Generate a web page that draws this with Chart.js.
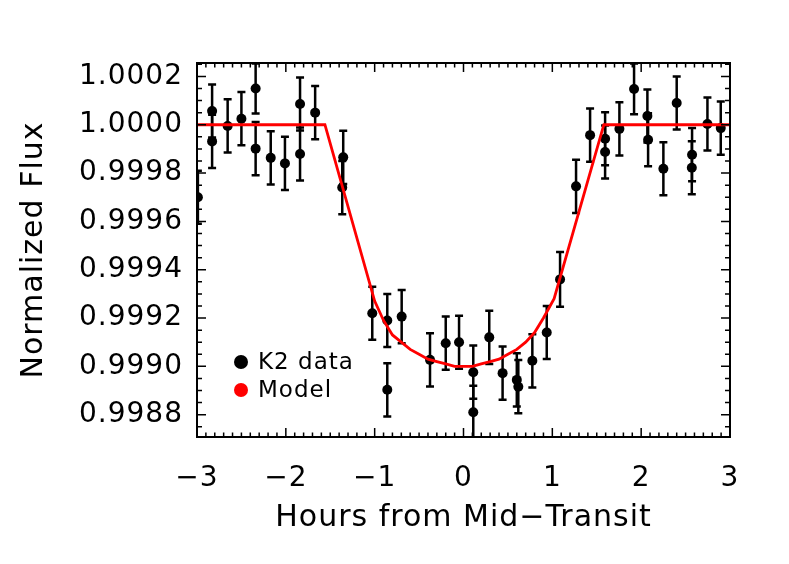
<!DOCTYPE html>
<html>
<head>
<meta charset="utf-8">
<title>K2 transit</title>
<script src="https://cdn.jsdelivr.net/npm/chart.js@4.4.1/dist/chart.umd.min.js"></script>
<style>
  body { margin: 0; background: #fff; }
  canvas { display: block; }
</style>
</head>
<body>
<canvas id="myChart" width="789" height="564"></canvas>
<script>
// K2 photometry, phased on mid-transit
var hours = [-2.99, -2.83, -2.83, -2.655, -2.50, -2.34, -2.34, -2.17, -2.01, -1.84, -1.84, -1.67,
  -1.354, -1.365, -1.027, -0.858, -0.858, -0.696, -0.377, -0.20, -0.05, 0.11, 0.11, 0.29,
  0.44, 0.60, 0.617, 0.775, 0.937, 1.087, 1.267, 1.425, 1.594, 1.594, 1.755, 1.92,
  2.07, 2.078, 2.25, 2.40, 2.573, 2.57, 2.746, 2.896];
var flux = [0.99970, 1.000057, 0.999931, 0.999995, 1.000025, 1.000150, 0.999901, 0.999863, 0.999840, 1.000086, 0.999879, 1.000050,
  0.999865, 0.999740, 0.999220, 0.999190, 0.998903, 0.999206, 0.999027, 0.999096, 0.999100, 0.998976, 0.998810, 0.999120,
  0.998972, 0.998944, 0.998916, 0.999023, 0.999140, 0.999360, 0.999745, 0.999957, 0.999942, 0.999887, 0.999983, 1.000148,
  1.000036, 0.999938, 0.999818, 1.000090, 0.999876, 0.999822, 1.000003, 0.999986];
var fluxErr = [0.00011, 0.00011, 0.00011, 0.00011, 0.00011, 0.000103, 0.00011, 0.00011, 0.00011, 0.00011, 0.00011, 0.00011,
  0.00011, 0.00011, 0.00011, 0.00011, 0.00011, 0.00011, 0.00011, 0.00011, 0.00011, 0.00011, 0.00011, 0.00011,
  0.00011, 0.00011, 0.00011, 0.00011, 0.00011, 0.000113, 0.00011, 0.00011, 0.00011, 0.00011, 0.00011, 0.000105,
  0.00011, 0.00011, 0.00011, 0.00011, 0.00011, 0.00011, 0.00011, 0.00011];

// transit model
var modelHours = [-3, -1.56, -1.0, -0.9, -0.8, -0.7, -0.6, -0.5, -0.4, -0.3, -0.2, -0.1, 0,
  0.1, 0.2, 0.3, 0.4, 0.5, 0.6, 0.7, 0.8, 0.9, 1.02, 1.58, 3];
var modelFlux = [1.0, 1.0, 0.99927, 0.99919, 0.99913, 0.99910, 0.99907, 0.99905, 0.99903, 0.99902, 0.99901, 0.99900, 0.99900,
  0.99900, 0.99901, 0.99902, 0.99903, 0.99905, 0.99907, 0.99910, 0.99914, 0.99920, 0.99928, 1.0, 1.0];

var xTicks = [-3, -2, -1, 0, 1, 2, 3];
var yTicks = [0.9988, 0.9990, 0.9992, 0.9994, 0.9996, 0.9998, 1.0000, 1.0002];
var seriesNames = ['K2 data', 'Model'];

Chart.defaults.font.family = "'DejaVu Sans', sans-serif";
Chart.defaults.color = '#000';

var k2 = hours.map(function (h, i) { return { x: h, y: flux[i] }; });
var model = modelHours.map(function (h, i) { return { x: h, y: modelFlux[i] }; });

// letter spacing like the IDL vector font
var spacing = {
  id: 'spacing',
  beforeDraw: function (chart) { chart.ctx.letterSpacing = '1px'; }
};

var errorBars = {
  id: 'errorBars',
  beforeDatasetsDraw: function (chart) {
    var c = chart.ctx, xs = chart.scales.x, ys = chart.scales.y, a = chart.chartArea;
    c.save();
    c.beginPath();
    c.rect(a.left, a.top, a.right - a.left, a.bottom - a.top);
    c.clip();
    c.strokeStyle = '#000';
    c.lineWidth = 2.5;
    hours.forEach(function (h, i) {
      var px = xs.getPixelForValue(h);
      var top = ys.getPixelForValue(flux[i] + fluxErr[i]);
      var bot = ys.getPixelForValue(flux[i] - fluxErr[i]);
      c.beginPath();
      c.moveTo(px, top); c.lineTo(px, bot);
      c.moveTo(px - 4, top); c.lineTo(px + 4, top);
      c.moveTo(px - 4, bot); c.lineTo(px + 4, bot);
      c.stroke();
    });
    c.restore();
  }
};

// box with inward ticks on all four sides
var frame = {
  id: 'frame',
  afterDatasetsDraw: function (chart) {
    var c = chart.ctx, xs = chart.scales.x, ys = chart.scales.y, a = chart.chartArea;
    c.save();
    c.strokeStyle = '#000';
    c.lineWidth = 1.5;
    c.beginPath();
    for (var i = 0; i <= 60; i++) {
      var px = xs.getPixelForValue(-3 + i * 0.1);
      var len = (i % 10 === 0) ? 9 : 4.5;
      c.moveTo(px, a.bottom); c.lineTo(px, a.bottom - len);
      c.moveTo(px, a.top); c.lineTo(px, a.top + len);
    }
    for (var k = -1; k <= 29; k++) {
      var py = ys.getPixelForValue(0.9988 + k * 0.00005);
      if (py < a.top || py > a.bottom) continue;
      var l2 = (k % 4 === 0) ? 9 : 5;
      c.moveTo(a.left, py); c.lineTo(a.left + l2, py);
      c.moveTo(a.right, py); c.lineTo(a.right - l2, py);
    }
    c.stroke();
    c.lineWidth = 2;
    c.strokeRect(a.left, a.top, a.right - a.left, a.bottom - a.top);
    c.restore();
  }
};

var legendBox = {
  id: 'legendBox',
  afterDraw: function (chart) {
    var c = chart.ctx, a = chart.chartArea;
    var cols = ['#000000', '#ff0000'];
    c.save();
    c.font = "23px 'DejaVu Sans', sans-serif";
    c.textBaseline = 'middle';
    seriesNames.forEach(function (name, i) {
      var y = a.bottom - 75 + i * 28;
      c.beginPath();
      c.arc(a.left + 44, y, 7, 0, Math.PI * 2);
      c.fillStyle = cols[i];
      c.fill();
      c.fillStyle = '#000';
      c.fillText(name, a.left + 61, y + 1);
    });
    c.restore();
  }
};

var ctx = document.getElementById('myChart').getContext('2d');

var chart = new Chart(ctx, {
  type: 'scatter',
  data: {
    datasets: [{
      type: 'line',
      label: seriesNames[1],
      data: model,
      borderColor: '#ff0000',
      borderWidth: 2.8,
      pointRadius: 0,
      fill: false,
      tension: 0,
      clip: 0
    }, {
      label: seriesNames[0],
      data: k2,
      showLine: false,
      pointRadius: 5,
      pointBackgroundColor: '#000',
      pointBorderWidth: 0,
      clip: 0
    }]
  },
  options: {
    responsive: false,
    animation: false,
    devicePixelRatio: 1,
    layout: { padding: { left: 0, top: 63, right: 59, bottom: 0 } },
    plugins: {
      legend: { display: false },
      tooltip: { enabled: false }
    },
    scales: {
      x: {
        type: 'linear',
        min: xTicks[0],
        max: xTicks[xTicks.length - 1],
        grid: { display: false, drawTicks: false },
        border: { display: false },
        afterBuildTicks: function (s) { s.ticks = xTicks.map(function (v) { return { value: v }; }); },
        ticks: {
          padding: 28,
          autoSkip: false,
          maxRotation: 0,
          font: { size: 28, lineHeight: 1 },
          callback: function (v) { return v < 0 ? '\u2212' + (-v) : '' + v; }
        },
        title: {
          display: true,
          text: 'Hours from Mid\u2212Transit',
          font: { size: 30, lineHeight: 1 },
          padding: { top: 0, bottom: 31 }
        },
        afterFit: function (s) { s.height = 127; }
      },
      y: {
        type: 'linear',
        min: 0.9987077,
        max: 1.0002555,
        grid: { display: false, drawTicks: false },
        border: { display: false },
        afterBuildTicks: function (s) { s.ticks = yTicks.map(function (v) { return { value: v }; }); },
        ticks: {
          padding: 14,
          font: { size: 28, lineHeight: 1 },
          callback: function (v) { return v.toFixed(4); }
        },
        title: {
          display: true,
          text: 'Normalized Flux',
          font: { size: 30, lineHeight: 1 },
          padding: { top: 19, bottom: 0 }
        },
        afterFit: function (s) { s.width = 197; }
      }
    }
  },
  plugins: [spacing, errorBars, frame, legendBox]
});
</script>
</body>
</html>
